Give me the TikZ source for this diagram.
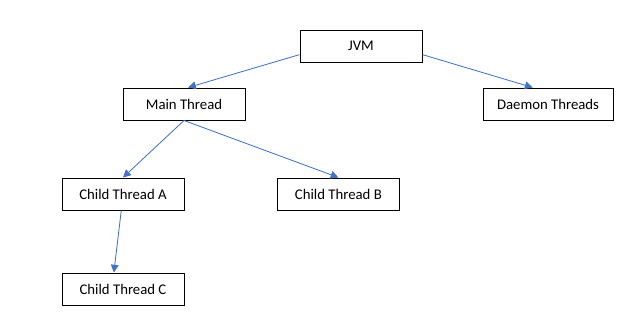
\documentclass[tikz,border=0pt]{standalone}
\usepackage{fontspec}
\setmainfont{Carlito}
\usepackage{tikz}
\usetikzlibrary{arrows.meta,positioning}
\definecolor{linkblue}{RGB}{68,114,196}

\begin{document}
\begin{tikzpicture}[font=\fontsize{10.5}{12}\selectfont,
    box/.style={rectangle, draw=black, line width=0.7pt, fill=white,
                minimum width=3.05cm, minimum height=0.8cm, inner sep=2pt},
    link/.style={-{Triangle[length=5.5pt,width=5.5pt]}, line width=0.6pt, linkblue}]
\useasboundingbox (0,0) rectangle (15.825,7.875);
% top level
\node[box] (jvm) at (9.025,6.725) {JVM};
% second row
\node[box] (main) at (4.6,5.275) {Main Thread};
\node[box, minimum width=3.25cm] (daemon) at (13.7,5.275) {Daemon Threads};
% children of main
\node[box] (childA) at (3.075,3.025) {Child Thread A};
\node[box] (childB) at (8.46,3.025) {Child Thread B};
% grandchild
\node[box] (childC) at (3.075,0.65) {Child Thread C};
% connectors
\draw[link] (jvm.188) -- (main.76);
\draw[link] (jvm.352) -- (daemon.133);
\draw[link] (main.south) -- (childA.north);
\draw[link] (main.south) -- (childB.north);
\draw[link] (childA.264) -- (childC.119);
\end{tikzpicture}
\end{document}
